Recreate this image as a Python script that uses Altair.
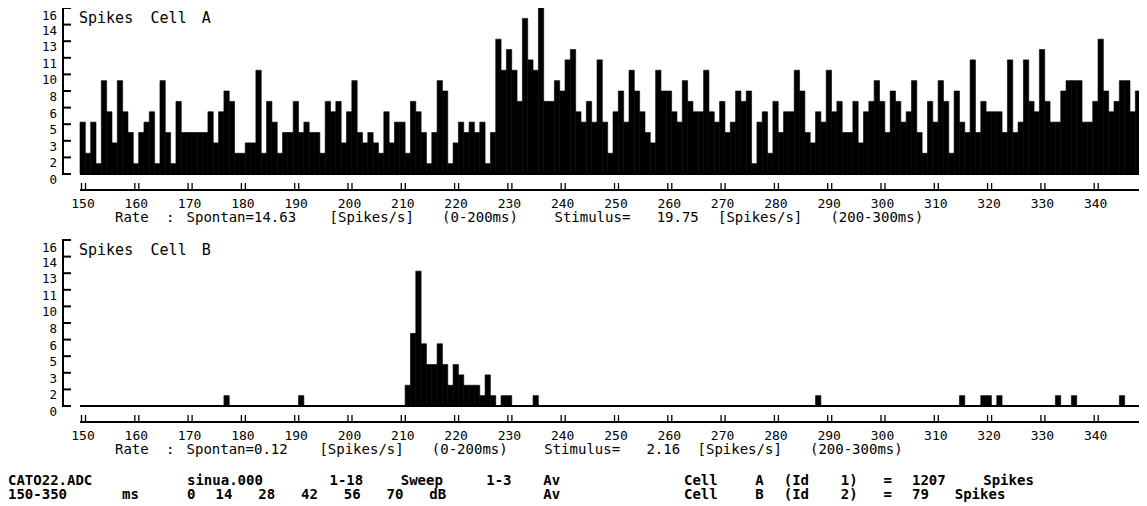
import re
import altair as alt
import pandas as pd

# ---------------- data ----------------
BIN_START = list(range(150, 350))          # 1 ms bins, 150..349
BIN_WIDTH = 1

CELL_A = [5, 2, 5, 1, 9, 6, 3, 9, 6, 4,
          1, 4, 5, 6, 1, 9, 4, 1, 7, 4,
          4, 4, 4, 4, 6, 3, 6, 8, 7, 2,
          2, 3, 3, 10, 2, 7, 5, 2, 4, 4,
          7, 4, 5, 4, 4, 2, 7, 6, 7, 3,
          6, 9, 4, 3, 4, 3, 2, 6, 3, 5,
          5, 2, 7, 6, 4, 1, 4, 9, 8, 1,
          3, 5, 4, 5, 4, 5, 1, 4, 13, 10,
          12, 10, 7, 15, 11, 10, 16, 7, 7, 9,
          8, 11, 12, 6, 5, 7, 5, 11, 5, 2,
          6, 8, 5, 10, 8, 6, 4, 3, 10, 8,
          8, 6, 5, 9, 7, 6, 6, 10, 6, 5,
          7, 4, 5, 8, 7, 8, 1, 5, 6, 2,
          7, 4, 6, 6, 10, 8, 4, 3, 6, 5,
          10, 6, 7, 4, 4, 7, 3, 6, 7, 9,
          7, 4, 8, 7, 5, 6, 9, 4, 2, 7,
          5, 9, 7, 2, 8, 5, 4, 11, 4, 7,
          6, 6, 6, 4, 11, 4, 5, 11, 7, 6,
          12, 7, 5, 5, 8, 9, 9, 9, 5, 5,
          7, 13, 8, 6, 7, 9, 9, 6, 8, 6]

CELL_B = [0, 0, 0, 0, 0, 0, 0, 0, 0, 0,
          0, 0, 0, 0, 0, 0, 0, 0, 0, 0,
          0, 0, 0, 0, 0, 0, 0, 1, 0, 0,
          0, 0, 0, 0, 0, 0, 0, 0, 0, 0,
          0, 1, 0, 0, 0, 0, 0, 0, 0, 0,
          0, 0, 0, 0, 0, 0, 0, 0, 0, 0,
          0, 2, 7, 13, 6, 4, 4, 6, 4, 2,
          4, 3, 2, 2, 2, 1, 3, 1, 0, 1,
          1, 0, 0, 0, 0, 1, 0, 0, 0, 0,
          0, 0, 0, 0, 0, 0, 0, 0, 0, 0,
          0, 0, 0, 0, 0, 0, 0, 0, 0, 0,
          0, 0, 0, 0, 0, 0, 0, 0, 0, 0,
          0, 0, 0, 0, 0, 0, 0, 0, 0, 0,
          0, 0, 0, 0, 0, 0, 0, 0, 1, 0,
          0, 0, 0, 0, 0, 0, 0, 0, 0, 0,
          0, 0, 0, 0, 0, 0, 0, 0, 0, 0,
          0, 0, 0, 0, 0, 1, 0, 0, 0, 1,
          1, 0, 1, 0, 0, 0, 0, 0, 0, 0,
          0, 0, 0, 1, 0, 0, 1, 0, 0, 0,
          0, 0, 0, 0, 0, 1, 0, 0, 0, 0]

X_TICKS = [150, 160, 170, 180, 190, 200, 210, 220, 230, 240,
           250, 260, 270, 280, 290, 300, 310, 320, 330, 340]
X_TICK_LABELS = [str(v) for v in X_TICKS]
Y_TICK_VALUES = [0, 1.6, 3.2, 4.8, 6.4, 8, 9.6, 11.2, 12.8, 14.4, 16]
Y_TICK_LABELS = ["0", "2", "3", "5", "6", "8", "10", "11", "13", "14", "16"]

TITLE_A = "Spikes Cell A"
TITLE_B = "Spikes Cell B"
RATE_A = "Rate : Spontan=14.63 [Spikes/s] (0-200ms)  Stimulus= 19.75 [Spikes/s] (200-300ms)"
RATE_B = "Rate : Spontan=0.12 [Spikes/s] (0-200ms)  Stimulus= 2.16 [Spikes/s] (200-300ms)"
FOOT_1 = ["CATO22.ADC", "sinua.000 1-18 Sweep 1-3 Av", "Cell A (Id 1) = 1207 Spikes"]
FOOT_2 = ["150-350 ms", "0 14 28 42 56 70 dB      Av", "Cell B (Id 2) = 79 Spikes"]

# ---------------- layout ----------------
W, H = 1066, 166
FONT = "DejaVu Sans Mono"
SMALL_CW = 10.22      # character cell of the small screen font
BOLD_CW = 14.25       # character cell of the bold screen font
FOOT_X = [-72, 107, 604]

x_scale = alt.Scale(domain=[150, 350], nice=False, zero=False, padding=0)
y_scale = alt.Scale(domain=[0, 16], nice=False, zero=True, padding=0)


def word_rows(text, x0, cw, y):
    return [{"w": m.group(0), "px": x0 + m.start() * cw, "py": y}
            for m in re.finditer(r"\S+", text)]


def text_layer(rows, size, weight="normal"):
    return alt.Chart(pd.DataFrame(rows)).mark_text(
        align="left", baseline="alphabetic", font=FONT, fontSize=size,
        fontWeight=weight, color="black"
    ).encode(
        x=alt.X("px:Q", scale=None, axis=None),
        y=alt.Y("py:Q", scale=None, axis=None),
        text="w:N",
    )


def panel(values, title, rate, extra=None):
    df = pd.DataFrame({"start": BIN_START, "count": values})
    df["end"] = df["start"] + BIN_WIDTH
    df["base"] = 0
    bars = alt.Chart(df).mark_rect(color="black", stroke="black", strokeWidth=0.6).encode(
        x=alt.X("start:Q", scale=x_scale, axis=None),
        x2="end:Q",
        y=alt.Y("count:Q", scale=y_scale, axis=None),
        y2="base:Q",
    )
    zero = alt.Chart(pd.DataFrame({"z": [0]})).mark_rule(color="black", strokeWidth=2).encode(
        y=alt.Y("z:Q", axis=None)
    )
    # left axis: bracket line, inward ticks and rounded labels
    ydom = alt.Chart(pd.DataFrame({"a": [0], "b": [16]})).mark_rule(color="black", strokeWidth=2).encode(
        x=alt.value(-17), y=alt.Y("a:Q", axis=None), y2="b:Q"
    )
    ytick_df = pd.DataFrame({"v": Y_TICK_VALUES, "lab": Y_TICK_LABELS})
    yt = alt.Chart(ytick_df).mark_rule(color="black", strokeWidth=2).encode(
        y=alt.Y("v:Q", axis=None), x=alt.value(-18), x2=alt.value(-9)
    )
    ylab = alt.Chart(ytick_df.iloc[:-1]).mark_text(align="right", baseline="top", font=FONT,
                                                   fontSize=12.5, color="black").encode(
        y=alt.Y("v:Q", axis=None), x=alt.value(-23), text="lab:N"
    )
    # the top label sits a little lower so that it stays inside the page
    ylab_top = alt.Chart(ytick_df.iloc[-1:]).mark_text(align="right", baseline="top", font=FONT,
                                                       fontSize=12.5, color="black", dy=1.8).encode(
        y=alt.Y("v:Q", axis=None), x=alt.value(-23), text="lab:N"
    )
    # bottom axis: line, double ticks, labels
    xdom = alt.Chart(pd.DataFrame({"a": [150], "b": [350]})).mark_rule(color="black", strokeWidth=2).encode(
        x=alt.X("a:Q", axis=None), x2="b:Q", y=alt.value(H + 16)
    )
    xt_df = pd.DataFrame({"t": X_TICKS, "lab": X_TICK_LABELS})
    xt1 = alt.Chart(xt_df).mark_rule(color="black", strokeWidth=1.3, xOffset=1.5).encode(
        x=alt.X("t:Q", axis=None), y=alt.value(H + 9), y2=alt.value(H + 16)
    )
    xt2 = alt.Chart(xt_df).mark_rule(color="black", strokeWidth=1.3, xOffset=5.5).encode(
        x=alt.X("t:Q", axis=None), y=alt.value(H + 9), y2=alt.value(H + 16)
    )
    xlab = alt.Chart(xt_df).mark_text(align="center", baseline="top", font=FONT, fontSize=13,
                                      color="black", dx=3).encode(
        x=alt.X("t:Q", axis=None), y=alt.value(H + 24), text="lab:N"
    )
    layers = [bars, zero, ydom, yt, ylab, ylab_top, xdom, xt1, xt2, xlab,
              text_layer(word_rows(title, -1, SMALL_CW, 15), 15),
              text_layer(word_rows(rate, 35, SMALL_CW, 214), 14)]
    if extra is not None:
        layers += extra
    return alt.layer(*layers).properties(width=W, height=H)


foot_rows_1 = []
foot_rows_2 = []
for s, x0 in zip(FOOT_1, FOOT_X):
    foot_rows_1 += word_rows(s, x0, BOLD_CW, 245)
for s, x0 in zip(FOOT_2, FOOT_X):
    foot_rows_2 += word_rows(s, x0, BOLD_CW, 259)

panel_a = panel(CELL_A, TITLE_A, RATE_A)
panel_b = panel(CELL_B, TITLE_B, RATE_B,
                extra=[text_layer(foot_rows_1, 14, "bold"), text_layer(foot_rows_2, 14, "bold")])

chart = alt.vconcat(panel_a, panel_b, spacing=66, bounds="flush").properties(
    padding={"left": 0, "top": -1, "right": -8, "bottom": 0},
    background="white",
).configure_view(stroke=None)

chart.save("out.html", embed_options={"renderer": "svg", "actions": False})
